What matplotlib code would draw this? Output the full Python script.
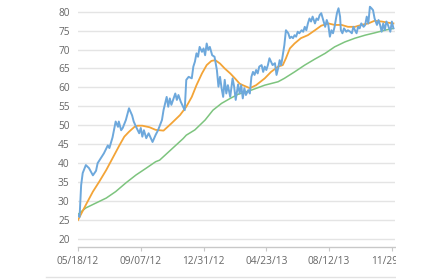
import matplotlib
matplotlib.use("Agg")
import matplotlib.pyplot as plt
from matplotlib.patches import Rectangle
from matplotlib.lines import Line2D

plt.rcParams['font.family'] = ['Open Sans', 'DejaVu Sans']

# ---- data (trading-day index, value) ----
blue_days = [0, 2, 4, 6, 10, 14, 19, 23, 25, 29, 33, 38, 40, 44, 48, 51, 52, 55, 57, 61, 65, 69, 71, 74,
             78, 80, 82, 84, 87, 90, 95, 99, 102, 107, 109, 113, 115, 117, 119, 124, 126, 128, 131, 134,
             136, 138, 141, 145, 147, 149, 151, 153, 155, 158, 160, 162, 164, 166, 168, 171, 174, 177,
             179, 181, 183, 185, 187, 189, 191, 194, 197, 199, 201, 204, 206, 208, 210, 212, 214, 217,
             219, 221, 223, 225, 227, 229, 231, 234, 236, 238, 240, 242, 244, 246, 248, 251, 253, 255,
             257, 259, 261, 263, 265, 268, 270, 272, 274, 276, 278, 280, 282, 285, 287, 289, 291, 293,
             295, 297, 299, 302, 304, 306, 308, 310, 312, 315, 317, 319, 321, 323, 325, 327, 330, 332,
             334, 335, 337, 339, 342, 344, 347, 349, 351, 353, 355, 357, 359, 361, 364, 366, 368, 370,
             372, 374, 376, 378, 381, 383, 385, 387, 389, 391, 393, 395, 398, 400, 402]
blue_vals = [26.3, 25.8, 34.2, 37.4, 39.5, 38.7, 36.8, 38.0, 40.0, 41.3, 42.6, 44.7, 44.0, 46.8, 51.0,
             49.6, 51.0, 48.7, 49.3, 51.4, 54.5, 52.6, 51.0, 49.6, 47.9, 49.3, 47.0, 48.7, 46.6, 47.9,
             45.6, 47.5, 48.7, 51.4, 54.0, 57.5, 54.9, 57.1, 55.4, 58.4, 56.7, 58.0, 56.2, 54.9, 54.0,
             62.0, 62.8, 62.4, 65.5, 66.8, 69.0, 68.1, 70.7, 69.4, 70.3, 68.5, 71.6, 69.9, 70.7, 68.5,
             68.1, 64.6, 60.2, 62.8, 59.8, 57.5, 62.0, 58.4, 60.6, 57.5, 62.4, 60.2, 56.7, 60.8, 58.4,
             60.6, 57.1, 59.8, 58.0, 59.3, 58.4, 62.8, 64.1, 63.3, 64.6, 63.7, 65.5, 65.9, 64.1, 65.5,
             64.6, 65.9, 67.7, 66.8, 65.9, 66.4, 63.3, 65.0, 67.2, 65.9, 68.5, 71.2, 75.1, 74.3, 73.0,
             73.4, 73.0, 73.8, 73.4, 74.7, 74.3, 75.1, 74.7, 76.0, 75.1, 76.9, 78.2, 77.4, 78.7, 76.9,
             78.2, 77.8, 79.1, 79.6, 78.2, 76.0, 77.8, 76.5, 73.4, 75.1, 74.3, 76.0, 79.6, 80.9, 78.7,
             75.1, 74.3, 75.6, 74.7, 75.1, 74.7, 74.3, 76.0, 75.1, 74.3, 76.0, 75.6, 76.9, 76.0, 76.5,
             78.7, 76.9, 81.3, 80.9, 80.4, 78.2, 76.5, 77.8, 76.5, 74.7, 76.9, 75.1, 77.4, 76.5, 74.7,
             77.4, 75.6]

orange_days = [0, 5, 10, 19, 27, 36, 44, 53, 59, 65, 72, 76, 82, 91, 99, 109, 119, 130, 138, 145, 151,
               158, 164, 170, 175, 181, 187, 194, 200, 206, 210, 219, 227, 238, 246, 255, 261, 265, 270,
               276, 284, 293, 302, 310, 319, 327, 336, 344, 353, 361, 370, 378, 387, 395, 402]
orange_vals = [25.0, 27.0, 29.0, 32.5, 35.1, 38.2, 41.3, 44.8, 47.0, 48.3, 49.6, 49.9, 49.9, 49.5, 48.8,
               48.6, 50.5, 52.7, 54.9, 57.5, 60.6, 63.7, 65.9, 67.0, 67.2, 66.3, 65.0, 63.7, 62.4, 61.0,
               60.6, 59.8, 60.6, 62.4, 64.1, 65.5, 65.9, 67.7, 70.3, 71.6, 73.0, 73.8, 75.1, 76.3, 76.9,
               76.5, 76.5, 76.0, 76.0, 76.5, 76.9, 77.6, 77.4, 77.1, 76.9]

green_days = [0, 10, 23, 36, 48, 61, 74, 87, 99, 104, 134, 138, 149, 162, 172, 183, 194, 204, 221, 238,
              255, 263, 276, 289, 302, 315, 327, 340, 353, 366, 378, 391, 402]
green_vals = [26.5, 28.2, 29.5, 30.8, 32.5, 34.8, 36.9, 38.7, 40.4, 40.8, 46.5, 47.4, 48.8, 51.4, 54.0,
              55.8, 57.1, 58.2, 59.3, 60.6, 61.5, 62.4, 64.1, 65.9, 67.5, 69.0, 70.7, 72.0, 73.0, 73.8,
              74.4, 75.1, 75.6]

tick_days = [0, 80, 160, 240, 320, 400]
tick_labels = ["05/18/12", "09/07/12", "12/31/12", "04/23/13", "08/12/13", "11/29/13"]
y_ticks = [20, 25, 30, 35, 40, 45, 50, 55, 60, 65, 70, 75, 80]

# ---- figure ----
W, H = 440, 280
fig = plt.figure(figsize=(W / 100, H / 100), dpi=100)
left, right = 78 / W, 395 / W
bottom = (H - 247.3) / H
top = (H - 2.2) / H
ax = fig.add_axes([left, bottom, right - left, top - bottom])

ax.plot(green_days, green_vals, color="#7DC47E", lw=1.1, zorder=3)
ax.plot(orange_days, orange_vals, color="#F3A437", lw=1.3, zorder=4)
ax.plot(blue_days, blue_vals, color="#6DA8DC", lw=1.4, zorder=5)

ax.set_xlim(0, 404)
ax.set_ylim(17.8, 82.5)
ax.set_yticks(y_ticks)
ax.set_xticks(tick_days)
ax.set_xticklabels(tick_labels)

for s in ["top", "right", "left"]:
    ax.spines[s].set_visible(False)
ax.spines["bottom"].set_color("#C8C8C8")
ax.spines["bottom"].set_linewidth(1.0)

ax.yaxis.grid(True, color="#E4E4E4", lw=1.0)
ax.set_axisbelow(True)
ax.tick_params(axis="y", length=0, pad=6, labelsize=7.3, labelcolor="#666666")
ax.tick_params(axis="x", length=3, width=0.8, color="#C8C8C8", pad=3, labelsize=7.3,
               labelcolor="#666666")

# bottom separator line
fig.add_artist(Line2D([46 / W, 395 / W], [1 - 276.7 / H, 1 - 276.7 / H], color="#E2E2E2", lw=1.0,
                      transform=fig.transFigure))
# right crop of the canvas
fig.add_artist(Rectangle((396 / W, 0), 1 - 396 / W, 1, transform=fig.transFigure,
                         facecolor="white", edgecolor="none", zorder=100))

fig.savefig("out.png", dpi=100)
